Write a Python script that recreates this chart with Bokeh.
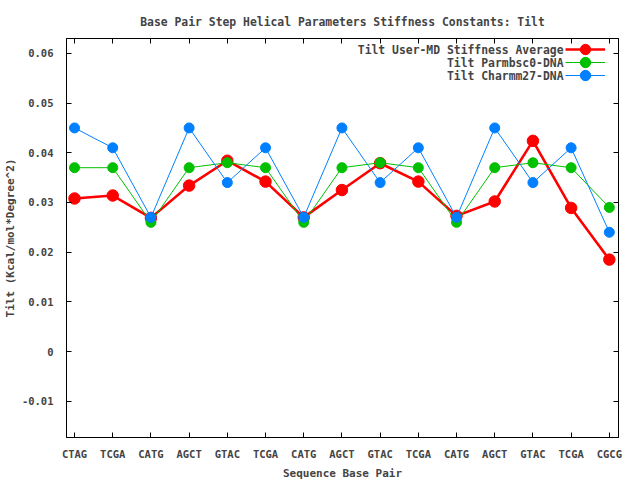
from bokeh.plotting import figure
from bokeh.models import (Range1d, FixedTicker, LinearAxis, Legend, LegendItem,
                          Label, CustomJSTickFormatter, ColumnDataSource,
                          CustomLabelingPolicy)
from bokeh.core.properties import value
from bokeh.embed import file_html
from bokeh.resources import INLINE

# ---- data ----
base_pairs = ["CTAG", "TCGA", "CATG", "AGCT", "GTAC", "TCGA", "CATG", "AGCT",
              "GTAC", "TCGA", "CATG", "AGCT", "GTAC", "TCGA", "CGCG"]
user_md = [0.0308, 0.0314, 0.0269, 0.0334, 0.0384, 0.0342, 0.0270, 0.0325,
           0.0379, 0.0342, 0.0273, 0.0302, 0.0424, 0.0289, 0.0185]
parmbsc0 = [0.037, 0.037, 0.026, 0.037, 0.038, 0.037, 0.026, 0.037,
            0.038, 0.037, 0.026, 0.037, 0.038, 0.037, 0.029]
charmm27 = [0.045, 0.041, 0.027, 0.045, 0.034, 0.041, 0.027, 0.045,
            0.034, 0.041, 0.027, 0.045, 0.034, 0.041, 0.024]
y_ticks = [-0.01, 0.0, 0.01, 0.02, 0.03, 0.04, 0.05, 0.06]
series_names = ["Tilt User-MD Stiffness Average", "Tilt Parmbsc0-DNA", "Tilt Charmm27-DNA"]

FONT = "DejaVu Sans Mono"
idx = list(range(len(base_pairs)))

p = figure(frame_width=552, frame_height=399, output_backend="svg", toolbar_location=None,
           x_range=Range1d(-0.21, 14.24), y_range=Range1d(-0.0173, 0.063),
           min_border_left=60, min_border_right=12, min_border_top=38, min_border_bottom=41)
p.background_fill_color = "white"
p.border_fill_color = "white"
p.outline_line_color = "black"
p.outline_line_width = 1
p.xgrid.visible = False
p.ygrid.visible = False

p.title.text = "Base Pair Step Helical Parameters Stiffness Constants: Tilt"
p.title.align = "center"
p.title.text_font = FONT
p.title.text_font_size = "11.4px"
p.title.text_font_style = "bold"
p.title.standoff = 11

src = ColumnDataSource(dict(x=idx, red=user_md, green=parmbsc0, blue=charmm27))

r1 = p.line("x", "red", source=src, line_color="#ff0000", line_width=2.6)
r1m = p.scatter("x", "red", source=src, size=11.5, marker="circle", fill_color="#ff0000", line_color="#ff0000")
r2 = p.line("x", "green", source=src, line_color="#00c000", line_width=1)
r2m = p.scatter("x", "green", source=src, size=10, marker="circle", fill_color="#00c000", line_color="#00c000")
r3 = p.line("x", "blue", source=src, line_color="#0080ff", line_width=1)
r3m = p.scatter("x", "blue", source=src, size=10, marker="circle", fill_color="#0080ff", line_color="#0080ff")

fmt_y = CustomJSTickFormatter(code="return Math.abs(tick) < 1e-9 ? '0' : tick.toFixed(2);")

for ax in p.xaxis:
    ax.ticker = FixedTicker(ticks=idx)
    ax.major_label_overrides = {i: s for i, s in enumerate(base_pairs)}
    ax.axis_label = "Sequence Base Pair"
for ax in p.yaxis:
    ax.ticker = FixedTicker(ticks=y_ticks)
    ax.formatter = fmt_y
    ax.axis_label = "Tilt (Kcal/mol*Degree^2)"

for ax in p.axis:
    ax.major_tick_in = 5
    ax.major_tick_out = 0
    ax.minor_tick_in = 0
    ax.minor_tick_out = 0
    ax.axis_line_color = "black"
    ax.major_label_text_font = FONT
    ax.major_label_text_font_style = "bold"
    ax.axis_label_text_font = FONT
    ax.axis_label_text_font_style = "bold"
    ax.axis_label_text_font_size = "11px"
    ax.major_label_text_font_size = "10.5px"

p.xaxis.major_label_standoff = 10
p.xaxis.axis_label_standoff = 4
p.yaxis.major_label_standoff = 13
p.yaxis.axis_label_standoff = 2

# mirrored ticks on top and right (no labels drawn)
no_labels = CustomLabelingPolicy(code="for (const i of Array.from(indices)) { indices.unset(i) }")
top = LinearAxis(ticker=FixedTicker(ticks=idx), major_tick_in=5, major_tick_out=0,
                 minor_tick_in=0, minor_tick_out=0, major_label_text_font_size="1px",
                 major_label_standoff=0, axis_line_color="black",
                 major_label_policy=no_labels)
right = LinearAxis(ticker=FixedTicker(ticks=y_ticks), major_tick_in=5, major_tick_out=0,
                   minor_tick_in=0, minor_tick_out=0, major_label_text_font_size="1px",
                   major_label_standoff=0, axis_line_color="black",
                   major_label_policy=no_labels)
p.add_layout(top, "above")
p.add_layout(right, "right")

# legend: one small legend per series (sample on the right), texts right-aligned to the left
row_y = [388, 375, 362]
for rends, name, ty in zip([[r1, r1m], [r2, r2m], [r3, r3m]], series_names, row_y):
    lg = Legend(items=[LegendItem(label=value(" "), renderers=rends)],
                location=(499, ty - 13), glyph_width=40, glyph_height=26, label_height=12,
                spacing=0, padding=0, margin=0, label_standoff=0,
                label_text_font_size="8px", border_line_color=None,
                background_fill_alpha=0)
    p.add_layout(lg)
    p.add_layout(Label(x=497, y=ty, x_units="screen", y_units="screen", text=name,
                       text_align="right", text_baseline="middle",
                       text_font=FONT, text_font_style="bold", text_font_size="11.4px"))

open("out.html", "w").write(file_html(p, INLINE))
